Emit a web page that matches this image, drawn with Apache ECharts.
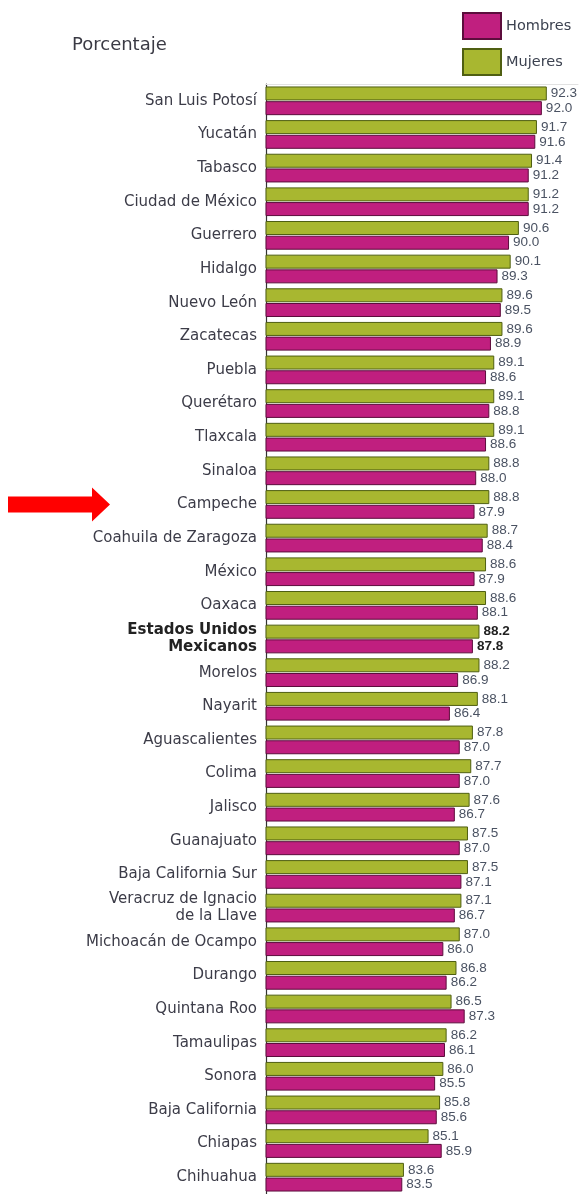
<!DOCTYPE html>
<html>
<head>
<meta charset="utf-8">
<script src="https://cdn.jsdelivr.net/npm/echarts@6/dist/echarts.min.js"></script>
<style>
  html, body {margin: 0; padding: 0; background: #fff;}
  #chart {width: 586px; height: 1194px;}
</style>
</head>
<body>
<div id="chart"></div>
<script>
const estados = [
    'San Luis Potosí', 'Yucatán', 'Tabasco', 'Ciudad de México', 'Guerrero', 'Hidalgo',
    'Nuevo León', 'Zacatecas', 'Puebla', 'Querétaro', 'Tlaxcala', 'Sinaloa', 'Campeche',
    'Coahuila de Zaragoza', 'México', 'Oaxaca', 'Estados Unidos Mexicanos', 'Morelos',
    'Nayarit', 'Aguascalientes', 'Colima', 'Jalisco', 'Guanajuato', 'Baja California Sur',
    'Veracruz de Ignacio de la Llave', 'Michoacán de Ocampo', 'Durango', 'Quintana Roo',
    'Tamaulipas', 'Sonora', 'Baja California', 'Chiapas', 'Chihuahua'
];
const mujeres = [92.3, 91.7, 91.4, 91.2, 90.6, 90.1, 89.6, 89.6, 89.1, 89.1, 89.1, 88.8, 88.8,
    88.7, 88.6, 88.6, 88.2, 88.2, 88.1, 87.8, 87.7, 87.6, 87.5, 87.5, 87.1, 87.0, 86.8, 86.5,
    86.2, 86.0, 85.8, 85.1, 83.6];
const hombres = [92.0, 91.6, 91.2, 91.2, 90.0, 89.3, 89.5, 88.9, 88.6, 88.8, 88.6, 88.0, 87.9,
    88.4, 87.9, 88.1, 87.8, 86.9, 86.4, 87.0, 87.0, 86.7, 87.0, 87.1, 86.7, 86.0, 86.2, 87.3,
    86.1, 85.5, 85.6, 85.9, 83.5];
const nacional = 'Estados Unidos Mexicanos';
const marcado = 'Campeche';

const catLabel = {
    'Estados Unidos Mexicanos': '{b|Estados Unidos}\n{b|Mexicanos}',
    'Veracruz de Ignacio de la Llave': 'Veracruz de Ignacio\nde la Llave'
};

const toData = arr => arr.map((v, i) => estados[i] === nacional
    ? {value: v, label: {fontWeight: 'bold', color: '#222'}}
    : v);

const myChart = echarts.init(document.getElementById('chart'));
const option = {
    animation: false,
    title: {
        text: 'Porcentaje', left: 67, top: 31,
        textStyle: {fontFamily: 'DejaVu Sans', fontSize: 18, fontWeight: 'normal', color: '#3a3a44'}
    },
    legend: {
        data: ['Hombres', 'Mujeres'],
        orient: 'vertical', left: 457, top: 7,
        itemWidth: 38, itemHeight: 26, itemGap: 8,
        icon: 'rect',
        textStyle: {fontFamily: 'DejaVu Sans', fontSize: 14.5, color: '#3c4250'}
    },
    grid: {left: 266, top: 84, width: 312, height: 1112, containLabel: false},
    xAxis: {
        type: 'value', min: 75.2, max: 94.2, position: 'top',
        axisLine: {show: true, lineStyle: {color: '#e2e2e2'}},
        axisTick: {show: false}, axisLabel: {show: false}, splitLine: {show: false}
    },
    yAxis: {
        type: 'category', inverse: true, data: estados,
        axisLine: {lineStyle: {color: '#333', width: 1.2}},
        axisTick: {show: false},
        axisLabel: {
            margin: 9, fontFamily: 'DejaVu Sans', fontSize: 15, color: '#3c3c48', lineHeight: 17,
            formatter: v => catLabel[v] || v,
            rich: {b: {fontWeight: 'bold', fontFamily: 'DejaVu Sans', fontSize: 15, color: '#222', lineHeight: 17}}
        }
    },
    series: [
        {
            name: 'Mujeres', type: 'bar', barWidth: 14, barGap: '5%',
            itemStyle: {color: '#a8b730', borderColor: '#4f5f12', borderWidth: 1},
            label: {show: true, position: 'right', distance: 4, formatter: p => p.value.toFixed(1),
                fontFamily: 'Liberation Sans', fontSize: 13.5, color: '#4a5262'},
            data: toData(mujeres)
        },
        {
            name: 'Hombres', type: 'bar', barWidth: 14,
            itemStyle: {color: '#c01f7f', borderColor: '#5c0d3c', borderWidth: 1},
            label: {show: true, position: 'right', distance: 4, formatter: p => p.value.toFixed(1),
                fontFamily: 'Liberation Sans', fontSize: 13.5, color: '#4a5262'},
            data: toData(hombres)
        }
    ]
};
myChart.setOption(option);

// flecha roja junto a la categoría marcada
const yArrow = myChart.convertToPixel({yAxisIndex: 0}, marcado);
myChart.setOption({
    graphic: [{
        type: 'polygon',
        shape: {points: [[8, yArrow - 8], [92, yArrow - 8], [92, yArrow - 17], [110, yArrow],
            [92, yArrow + 17], [92, yArrow + 8], [8, yArrow + 8]]},
        style: {fill: '#ff0000'}
    }]
});
</script>
</body>
</html>
